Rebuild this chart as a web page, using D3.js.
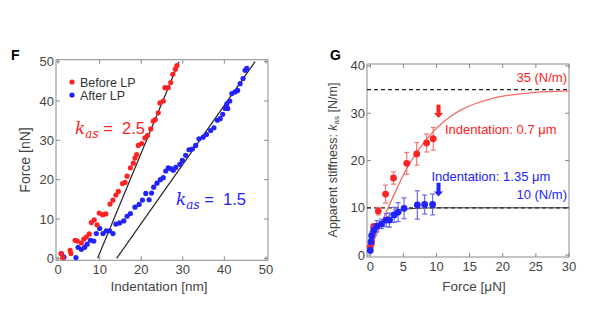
<!DOCTYPE html>
<html>
<head>
<meta charset="utf-8">
<script src="https://cdn.jsdelivr.net/npm/d3@7"></script>
<style>
  body { margin: 0; background: #fff; }
  svg { display: block; font-family: "Liberation Sans", Arial, sans-serif; }
</style>
</head>
<body>
<svg id="chart" width="595" height="335"></svg>
<script>
// ---- panel F : force vs indentation ----
var beforeX = [0.7,1.1,2.9,3.1,4.1,4.6,5.6,6.2,6.8,7.5,8.0,8.7,9.4,9.9,10.7,11.5,12.5,13.2,13.9,14.5,15.5,16.1,16.6,17.4,18.1,18.5,18.9,19.3,20.1,20.9,21.5,22.3,22.9,23.4,24.1,24.5,25.3,25.7,26.5,27.1,27.6,28.2,28.6];
var beforeY = [1.2,0.2,2.0,1.2,4.6,4.4,3.9,4.9,5.4,6.2,9.1,9.8,8.5,11.5,11.1,11.3,13.8,14.8,16.1,17.0,19.0,19.3,20.9,23.0,24.2,25.5,26.4,28.7,29.2,30.6,31.2,32.9,34.9,35.3,37.0,39.5,40.0,43.4,43.4,44.7,46.8,48.1,49.0];
var afterX = [0.8,1.4,4.3,4.8,5.6,6.4,7.0,7.8,8.6,9.2,10.0,10.8,11.6,12.4,13.2,13.9,14.8,15.8,16.6,17.4,18.5,19.5,20.3,21.1,21.9,22.5,23.0,23.8,24.6,25.3,25.9,26.5,27.1,27.7,28.3,29.3,29.9,30.7,31.5,32.3,33.1,33.9,34.9,35.7,36.7,37.5,38.3,39.0,39.6,40.2,40.6,40.8,41.3,41.8,42.6,43.2,43.8,44.5,45.0,45.4];
var afterY = [1.2,0.3,0.2,2.8,2.3,2.8,3.6,4.6,4.4,6.3,7.6,6.3,7.0,7.0,6.3,8.7,9.0,9.5,10.7,11.4,13.0,13.7,14.8,16.5,14.9,16.6,18.1,19.1,20.0,20.5,22.2,23.0,22.8,22.4,23.1,23.9,24.9,26.2,27.6,27.8,28.7,30.4,30.8,31.5,32.5,33.2,35.1,35.5,36.6,38.1,39.3,38.1,40.0,41.9,42.3,42.7,44.4,45.7,47.8,48.3];
var fitBeforeX = [9.5, 29.1], fitBeforeY = [0, 50];
var fitAfterX = [14.1, 47.4], fitAfterY = [0, 50];
var ticksF = [0, 10, 20, 30, 40, 50];

// ---- panel G : apparent stiffness vs force ----
var redF = [0, 0.2, 0.5, 1.2, 2.3, 3.5, 5.5, 7.0, 8.5, 9.5];
var redK = [1.8, 2.6, 6.0, 9.3, 12.9, 16.3, 19.4, 21.4, 23.7, 24.6];
var redErr = [0.4, 0.5, 0.6, 0.8, 1.9, 1.3, 2.3, 2.4, 1.9, 2.4];
var blueF = [0, 0.1, 0.2, 0.5, 1.0, 1.7, 2.4, 2.9, 3.6, 4.2, 5.1, 7.1, 8.2, 9.4];
var blueK = [1.0, 2.8, 4.1, 5.2, 6.1, 6.6, 7.4, 7.4, 8.5, 9.1, 9.9, 10.6, 10.7, 10.7];
var blueErr = [0.4, 0.6, 0.8, 1.0, 1.2, 1.0, 1.4, 1.5, 1.6, 2.0, 2.2, 3.0, 2.0, 2.2];
var redFitF = [0, 1, 2, 3, 4, 5, 6, 7, 8, 9, 10, 12, 14, 16, 18, 20, 22, 24, 26, 28, 30];
var redFitK = [1.2, 4.5, 7.8, 11, 14, 17, 19.5, 21.7, 23.6, 25.3, 26.8, 29.2, 30.9, 32.1, 33, 33.6, 34, 34.3, 34.5, 34.6, 34.7];
var blueFitF = [0, 0.5, 1, 2, 3, 4, 5, 6, 8, 10, 15, 20, 30];
var blueFitK = [1, 3.5, 5.3, 7.3, 8.5, 9.2, 9.6, 9.8, 9.95, 10, 10, 10, 10];
var plateaus = [35, 10];
var arrowF = 10.3;
var redArrow = [31.8, 29], blueArrow = [15.3, 12.4];
var ticksGx = [0, 5, 10, 15, 20, 25, 30];
var ticksGy = [0, 10, 20, 30, 40];

var red = "#f22", blue = "#22f";
var svg = d3.select("#chart");

function frame(x, y, xt, yt) {
    var g = svg.append("g");
    var x0 = x.range()[0], x1 = x.range()[1], y0 = y.range()[0], y1 = y.range()[1];
    g.append("rect").attr("x", x0).attr("y", y1).attr("width", x1 - x0).attr("height", y0 - y1)
        .attr("fill", "none").attr("stroke", "#8a8a8a").attr("stroke-width", 1);
    xt.forEach(function(t) {
        g.append("line").attr("x1", x(t)).attr("x2", x(t)).attr("y1", y0).attr("y2", y0 - 4).attr("stroke", "#8a8a8a");
        g.append("line").attr("x1", x(t)).attr("x2", x(t)).attr("y1", y1).attr("y2", y1 + 4).attr("stroke", "#8a8a8a");
        g.append("text").attr("x", x(t)).attr("y", y0 + 13.5).attr("text-anchor", "middle")
            .attr("font-size", 13).attr("fill", "#444").text(t);
    });
    yt.forEach(function(t) {
        g.append("line").attr("x1", x0).attr("x2", x0 + 4).attr("y1", y(t)).attr("y2", y(t)).attr("stroke", "#8a8a8a");
        g.append("line").attr("x1", x1).attr("x2", x1 - 4).attr("y1", y(t)).attr("y2", y(t)).attr("stroke", "#8a8a8a");
        g.append("text").attr("x", x0 - 2).attr("y", y(t) + 4.5).attr("text-anchor", "end")
            .attr("font-size", 13).attr("fill", "#444").text(t);
    });
}

// ======== F ========
var xL = d3.scaleLinear().domain([-0.5, 50.5]).range([56, 268]);
var yL = d3.scaleLinear().domain([-0.5, 50.5]).range([260.3, 59.7]);
frame(xL, yL, ticksF, ticksF);

svg.append("line").attr("x1", xL(fitBeforeX[0])).attr("y1", yL(fitBeforeY[0]))
    .attr("x2", xL(fitBeforeX[1])).attr("y2", yL(fitBeforeY[1])).attr("stroke", "#222").attr("stroke-width", 1.2);
svg.append("line").attr("x1", xL(fitAfterX[0])).attr("y1", yL(fitAfterY[0]))
    .attr("x2", xL(fitAfterX[1])).attr("y2", yL(fitAfterY[1])).attr("stroke", "#222").attr("stroke-width", 1.2);

svg.append("g").selectAll("circle").data(d3.range(afterX.length)).enter().append("circle")
    .attr("cx", function(i) { return xL(afterX[i]); })
    .attr("cy", function(i) { return yL(afterY[i]); })
    .attr("r", 2.6).attr("fill", blue);
svg.append("g").selectAll("circle").data(d3.range(beforeX.length)).enter().append("circle")
    .attr("cx", function(i) { return xL(beforeX[i]); })
    .attr("cy", function(i) { return yL(beforeY[i]); })
    .attr("r", 2.6).attr("fill", red);

// legend
svg.append("circle").attr("cx", 72).attr("cy", 82).attr("r", 2.6).attr("fill", red);
svg.append("text").attr("x", 80).attr("y", 86.5).attr("font-size", 12.5).attr("fill", "#333").text("Before LP");
svg.append("circle").attr("cx", 72).attr("cy", 95).attr("r", 2.6).attr("fill", blue);
svg.append("text").attr("x", 80).attr("y", 99.5).attr("font-size", 12.5).attr("fill", "#333").text("After LP");

function kLabel(x, y, col, val) {
    var t = svg.append("text").attr("x", x).attr("y", y).attr("fill", col).attr("font-size", 17);
    t.append("tspan").attr("font-family", "DejaVu Serif").attr("font-style", "italic").text("k");
    t.append("tspan").attr("font-family", "DejaVu Serif").attr("font-style", "italic")
        .attr("font-size", 12).attr("dy", 4).text("as");
    t.append("tspan").attr("dy", -4).attr("font-size", 16.5).attr("xml:space", "preserve").text(" =  " + val);
}
kLabel(75, 134, red, "2.5");
kLabel(176, 205, blue, "1.5");

svg.append("text").attr("x", 159).attr("y", 291).attr("text-anchor", "middle")
    .attr("font-size", 13.5).attr("fill", "#444").text("Indentation [nm]");
svg.append("text").attr("transform", "translate(30,160) rotate(-90)").attr("text-anchor", "middle")
    .attr("font-size", 14).attr("fill", "#444").text("Force [nN]");
svg.append("text").attr("x", 11).attr("y", 60).attr("font-size", 14).attr("font-weight", "bold").text("F");

// ======== G ========
var xR = d3.scaleLinear().domain([-0.5, 30]).range([367, 569]);
var yR = d3.scaleLinear().domain([-0.4, 40.4]).range([257, 64]);
frame(xR, yR, ticksGx, ticksGy);

plateaus.forEach(function(p) {
    svg.append("line").attr("x1", xR(-0.5)).attr("x2", xR(30)).attr("y1", yR(p)).attr("y2", yR(p))
        .attr("stroke", "#222").attr("stroke-width", 1.2).attr("stroke-dasharray", "4,3");
});

var line = d3.line().curve(d3.curveMonotoneX);
svg.append("path").attr("d", line(blueFitF.map(function(f, i) { return [xR(f), yR(blueFitK[i])]; })))
    .attr("fill", "none").attr("stroke", "#333").attr("stroke-width", 1);
svg.append("path").attr("d", line(redFitF.map(function(f, i) { return [xR(f), yR(redFitK[i])]; })))
    .attr("fill", "none").attr("stroke", "#f46a6a").attr("stroke-width", 1.3);

function errSeries(F, K, E, col, barCol) {
    var g = svg.append("g");
    F.forEach(function(f, i) {
        var cx = xR(f), top = yR(K[i] + E[i]), bot = yR(K[i] - E[i]);
        g.append("line").attr("x1", cx).attr("x2", cx).attr("y1", top).attr("y2", bot).attr("stroke", barCol).attr("stroke-width", 1.2);
        g.append("line").attr("x1", cx - 2.5).attr("x2", cx + 2.5).attr("y1", top).attr("y2", top).attr("stroke", barCol).attr("stroke-width", 1.2);
        g.append("line").attr("x1", cx - 2.5).attr("x2", cx + 2.5).attr("y1", bot).attr("y2", bot).attr("stroke", barCol).attr("stroke-width", 1.2);
    });
    g.selectAll("circle").data(F).enter().append("circle")
        .attr("cx", function(f) { return xR(f); })
        .attr("cy", function(f, i) { return yR(K[i]); })
        .attr("r", 3.4).attr("fill", col);
}
errSeries(redF, redK, redErr, red, "#f47777");
errSeries(blueF, blueK, blueErr, blue, "#6a6af5");

function arrow(f, k, col) {
    var x = xR(f), y0 = yR(k[0]), y1 = yR(k[1]);
    svg.append("path")
        .attr("d", "M" + (x - 2) + "," + y0 + "L" + (x + 2) + "," + y0 + "L" + (x + 2) + "," + (y1 - 5) +
            "L" + (x + 4.5) + "," + (y1 - 5) + "L" + x + "," + y1 + "L" + (x - 4.5) + "," + (y1 - 5) +
            "L" + (x - 2) + "," + (y1 - 5) + "Z")
        .attr("fill", col);
}
arrow(arrowF, redArrow, red);
arrow(arrowF, blueArrow, blue);

svg.append("text").attr("x", 567).attr("y", 82).attr("text-anchor", "end").attr("font-size", 13).attr("fill", red).text("35 (N/m)");
svg.append("text").attr("x", 445).attr("y", 134).attr("font-size", 13).attr("fill", red).text("Indentation: 0.7 μm");
svg.append("text").attr("x", 431.5).attr("y", 181).attr("font-size", 13).attr("fill", blue).text("Indentation: 1.35 μm");
svg.append("text").attr("x", 567).attr("y", 198.5).attr("text-anchor", "end").attr("font-size", 13).attr("fill", blue).text("10 (N/m)");

svg.append("text").attr("x", 474).attr("y", 291).attr("text-anchor", "middle")
    .attr("font-size", 13.5).attr("fill", "#444").text("Force [μN]");
var yl = svg.append("text").attr("transform", "translate(337,160) rotate(-90)").attr("text-anchor", "middle")
    .attr("font-size", 12.5).attr("fill", "#444");
yl.append("tspan").text("Apparent stiffness: ");
yl.append("tspan").attr("font-style", "italic").text("k");
yl.append("tspan").attr("font-size", 8).attr("dy", 2).text("as");
yl.append("tspan").attr("dy", -2).text(" [N/m]");
svg.append("text").attr("x", 330).attr("y", 60).attr("font-size", 14).attr("font-weight", "bold").text("G");
</script>
</body>
</html>
